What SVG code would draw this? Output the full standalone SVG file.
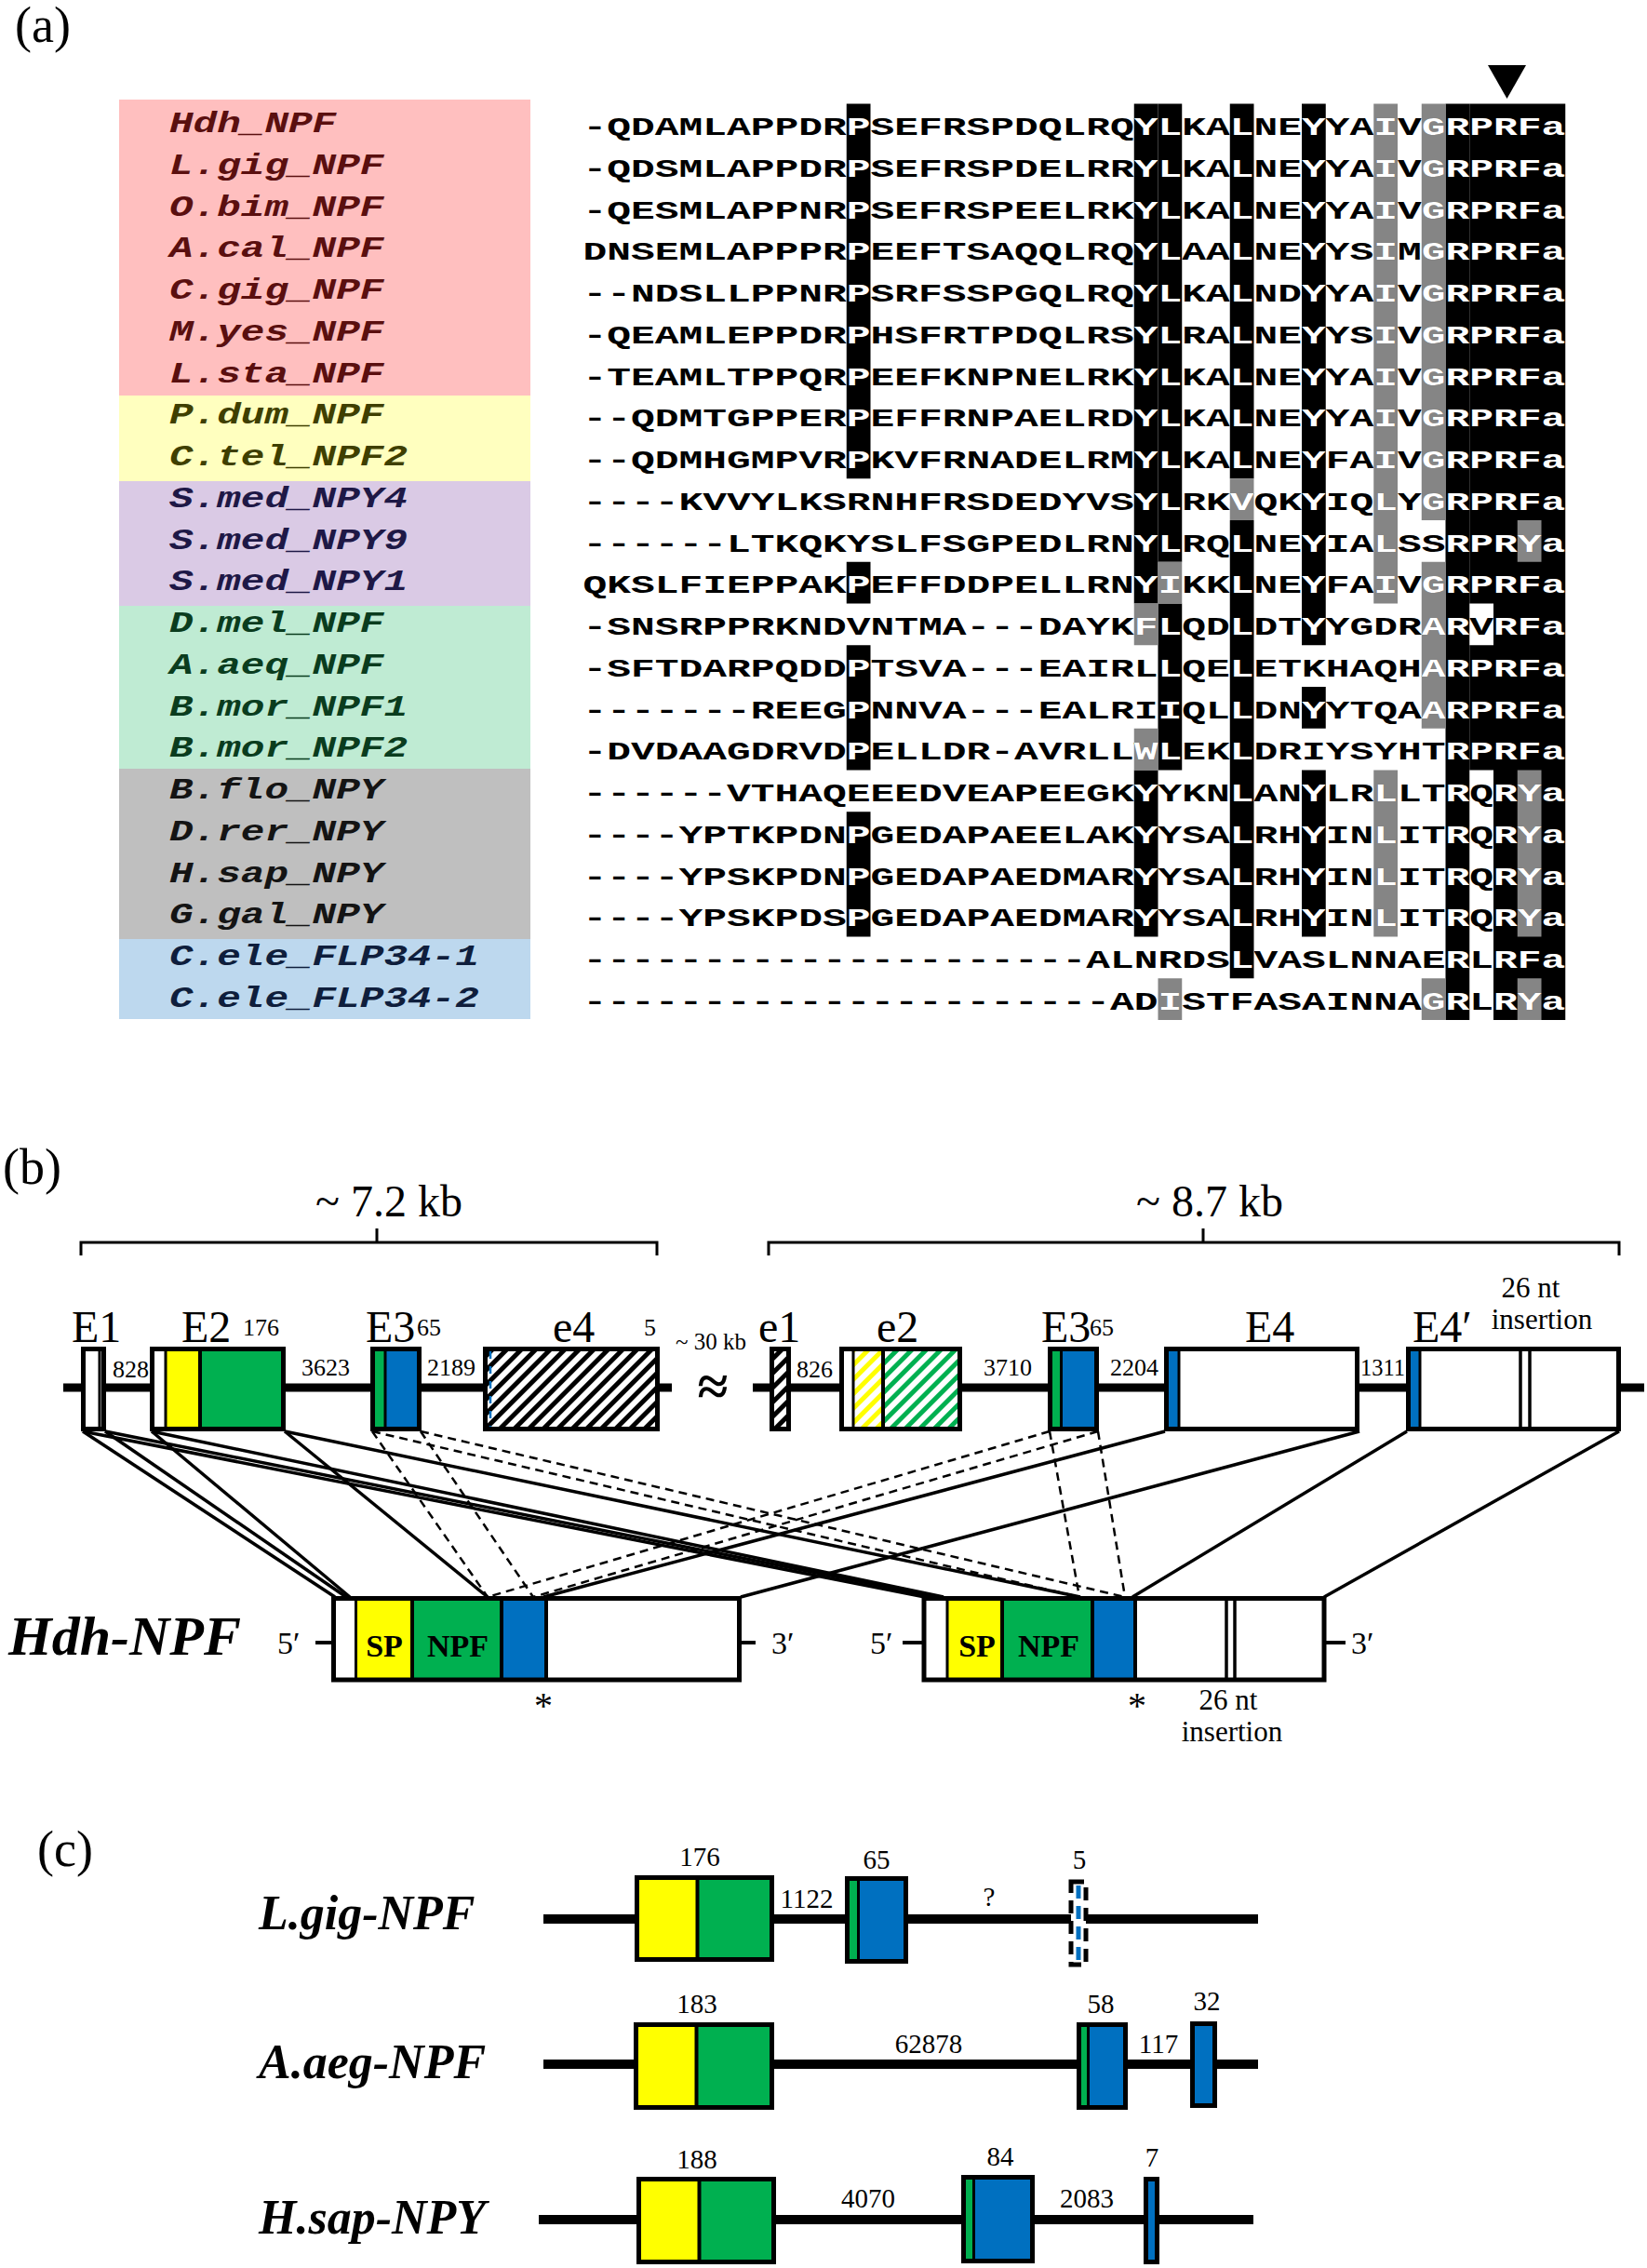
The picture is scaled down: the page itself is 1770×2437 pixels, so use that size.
<svg xmlns="http://www.w3.org/2000/svg" xmlns:xlink="http://www.w3.org/1999/xlink" width="1770" height="2437" viewBox="0 0 1770 2437">
<style>
.seq{font-family:"Liberation Mono",monospace;font-weight:bold;font-size:28px}
.lbl{font-family:"Liberation Mono",monospace;font-weight:bold;font-style:italic;font-size:32px}
.sf{font-family:"Liberation Serif",serif}
.pl{font-family:"Liberation Serif",serif;font-size:54px}
.num{font-family:"Liberation Serif",serif;font-size:26px}
.cn{font-family:"Liberation Serif",serif;font-size:29px;text-anchor:middle}
.ex{font-family:"Liberation Serif",serif;font-size:48px}
.gn{font-family:"Liberation Serif",serif;font-weight:bold;font-style:italic;font-size:52px}
.tb{font-family:"Liberation Serif",serif;font-weight:bold;font-size:34px;text-anchor:middle}
.conn{stroke:#000;stroke-width:3.5;fill:none}
.dash{stroke:#000;stroke-width:2.5;fill:none;stroke-dasharray:9 6}
.box{stroke:#000;stroke-width:5}
.dv{stroke:#000;stroke-width:4}
.k{fill:#000}
.g{fill:#858585}
</style>
<defs>
<pattern id="hatchK" patternUnits="userSpaceOnUse" width="11" height="11" patternTransform="rotate(45)"><rect width="11" height="11" fill="#fff"/><rect width="5" height="11" fill="#000"/></pattern>
<pattern id="hatchY" patternUnits="userSpaceOnUse" width="11" height="11" patternTransform="rotate(45)"><rect width="11" height="11" fill="#fff"/><rect width="5" height="11" fill="#ffff00"/></pattern>
<pattern id="hatchG" patternUnits="userSpaceOnUse" width="11" height="11" patternTransform="rotate(45)"><rect width="11" height="11" fill="#fff"/><rect width="5" height="11" fill="#00b050"/></pattern>
<clipPath id="hl">
<rect x="909.75" y="111.5" width="25.75" height="402.75"/><rect x="909.75" y="603.75" width="25.75" height="44.75"/><rect x="909.75" y="693.25" width="25.75" height="134.25"/><rect x="909.75" y="872.25" width="25.75" height="134.25"/>
<rect x="1218.75" y="111.5" width="25.75" height="581.75"/><rect x="1218.75" y="782.75" width="25.75" height="223.75"/>
<rect x="1244.5" y="111.5" width="25.75" height="716"/><rect x="1244.5" y="1051.25" width="25.75" height="44.75"/>
<rect x="1321.75" y="111.5" width="25.75" height="939.75"/>
<rect x="1399" y="111.5" width="25.75" height="581.75"/><rect x="1399" y="738" width="25.75" height="44.75"/><rect x="1399" y="827.5" width="25.75" height="179"/>
<rect x="1476.25" y="111.5" width="25.75" height="537"/><rect x="1476.25" y="827.5" width="25.75" height="179"/>
<rect x="1527.75" y="111.5" width="25.75" height="447.5"/><rect x="1527.75" y="603.75" width="25.75" height="179"/><rect x="1527.75" y="1051.25" width="25.75" height="44.75"/>
<rect x="1553.5" y="111.5" width="25.75" height="984.5"/>
<rect x="1579.25" y="111.5" width="25.75" height="537"/><rect x="1579.25" y="693.25" width="25.75" height="134.25"/>
<rect x="1605" y="111.5" width="77.25" height="984.5"/>
</clipPath>
<g id="seqtext" class="seq">
<text x="626.5" y="145" textLength="1055.75" lengthAdjust="spacingAndGlyphs">-QDAMLAPPDRPSEFRSPDQLRQYLKALNEYYAIVGRPRFa</text>
<text x="626.5" y="189.75" textLength="1055.75" lengthAdjust="spacingAndGlyphs">-QDSMLAPPDRPSEFRSPDELRRYLKALNEYYAIVGRPRFa</text>
<text x="626.5" y="234.5" textLength="1055.75" lengthAdjust="spacingAndGlyphs">-QESMLAPPNRPSEFRSPEELRKYLKALNEYYAIVGRPRFa</text>
<text x="626.5" y="279.25" textLength="1055.75" lengthAdjust="spacingAndGlyphs">DNSEMLAPPPRPEEFTSAQQLRQYLAALNEYYSIMGRPRFa</text>
<text x="626.5" y="324" textLength="1055.75" lengthAdjust="spacingAndGlyphs">--NDSLLPPNRPSRFSSPGQLRQYLKALNDYYAIVGRPRFa</text>
<text x="626.5" y="368.75" textLength="1055.75" lengthAdjust="spacingAndGlyphs">-QEAMLEPPDRPHSFRTPDQLRSYLRALNEYYSIVGRPRFa</text>
<text x="626.5" y="413.5" textLength="1055.75" lengthAdjust="spacingAndGlyphs">-TEAMLTPPQRPEEFKNPNELRKYLKALNEYYAIVGRPRFa</text>
<text x="626.5" y="458.25" textLength="1055.75" lengthAdjust="spacingAndGlyphs">--QDMTGPPERPEFFRNPAELRDYLKALNEYYAIVGRPRFa</text>
<text x="626.5" y="503" textLength="1055.75" lengthAdjust="spacingAndGlyphs">--QDMHGMPVRPKVFRNADELRMYLKALNEYFAIVGRPRFa</text>
<text x="626.5" y="547.75" textLength="1055.75" lengthAdjust="spacingAndGlyphs">----KVVYLKSRNHFRSDEDYVSYLRKVQKYIQLYGRPRFa</text>
<text x="626.5" y="592.5" textLength="1055.75" lengthAdjust="spacingAndGlyphs">------LTKQKYSLFSGPEDLRNYLRQLNEYIALSSRPRYa</text>
<text x="626.5" y="637.25" textLength="1055.75" lengthAdjust="spacingAndGlyphs">QKSLFIEPPAKPEFFDDPELLRNYIKKLNEYFAIVGRPRFa</text>
<text x="626.5" y="682" textLength="1055.75" lengthAdjust="spacingAndGlyphs">-SNSRPPRKNDVNTMA---DAYKFLQDLDTYYGDRARVRFa</text>
<text x="626.5" y="726.75" textLength="1055.75" lengthAdjust="spacingAndGlyphs">-SFTDARPQDDPTSVA---EAIRLLQELETKHAQHARPRFa</text>
<text x="626.5" y="771.5" textLength="1055.75" lengthAdjust="spacingAndGlyphs">-------REEGPNNVA---EALRIIQLLDNYYTQAARPRFa</text>
<text x="626.5" y="816.25" textLength="1055.75" lengthAdjust="spacingAndGlyphs">-DVDAAGDRVDPELLDR-AVRLLWLEKLDRIYSYHTRPRFa</text>
<text x="626.5" y="861" textLength="1055.75" lengthAdjust="spacingAndGlyphs">------VTHAQEEEDVEAPEEGKYYKNLANYLRLLTRQRYa</text>
<text x="626.5" y="905.75" textLength="1055.75" lengthAdjust="spacingAndGlyphs">----YPTKPDNPGEDAPAEELAKYYSALRHYINLITRQRYa</text>
<text x="626.5" y="950.5" textLength="1055.75" lengthAdjust="spacingAndGlyphs">----YPSKPDNPGEDAPAEDMARYYSALRHYINLITRQRYa</text>
<text x="626.5" y="995.25" textLength="1055.75" lengthAdjust="spacingAndGlyphs">----YPSKPDSPGEDAPAEDMARYYSALRHYINLITRQRYa</text>
<text x="626.5" y="1040" textLength="1055.75" lengthAdjust="spacingAndGlyphs">---------------------ALNRDSLVASLNNAERLRFa</text>
<text x="626.5" y="1084.75" textLength="1055.75" lengthAdjust="spacingAndGlyphs">----------------------ADISTFASAINNAGRLRYa</text>
</g>
</defs>
<rect width="1770" height="2437" fill="#fff"/>

<!-- Panel (a) -->
<text class="pl" x="16" y="45">(a)</text>
<g id="labels">
<rect x="128" y="107" width="442" height="318" fill="#ffbfbf"/>
<rect x="128" y="425" width="442" height="92" fill="#ffffbf"/>
<rect x="128" y="517" width="442" height="134" fill="#dacae5"/>
<rect x="128" y="651" width="442" height="175" fill="#bfebd3"/>
<rect x="128" y="826" width="442" height="183" fill="#bfbfbf"/>
<rect x="128" y="1009" width="442" height="86" fill="#bdd8ee"/>
<g class="lbl" fill="#5a0f0f">
<text x="182" y="142" textLength="179.2" lengthAdjust="spacingAndGlyphs">Hdh_NPF</text>
<text x="182" y="186.75" textLength="230.4" lengthAdjust="spacingAndGlyphs">L.gig_NPF</text>
<text x="182" y="231.5" textLength="230.4" lengthAdjust="spacingAndGlyphs">O.bim_NPF</text>
<text x="182" y="276.25" textLength="230.4" lengthAdjust="spacingAndGlyphs">A.cal_NPF</text>
<text x="182" y="321" textLength="230.4" lengthAdjust="spacingAndGlyphs">C.gig_NPF</text>
<text x="182" y="365.75" textLength="230.4" lengthAdjust="spacingAndGlyphs">M.yes_NPF</text>
<text x="182" y="410.5" textLength="230.4" lengthAdjust="spacingAndGlyphs">L.sta_NPF</text>
</g>
<g class="lbl" fill="#3f3f00">
<text x="182" y="455.25" textLength="230.4" lengthAdjust="spacingAndGlyphs">P.dum_NPF</text>
<text x="182" y="500" textLength="256" lengthAdjust="spacingAndGlyphs">C.tel_NPF2</text>
</g>
<g class="lbl" fill="#1e1846">
<text x="182" y="544.75" textLength="256" lengthAdjust="spacingAndGlyphs">S.med_NPY4</text>
<text x="182" y="589.5" textLength="256" lengthAdjust="spacingAndGlyphs">S.med_NPY9</text>
<text x="182" y="634.25" textLength="256" lengthAdjust="spacingAndGlyphs">S.med_NPY1</text>
</g>
<g class="lbl" fill="#0a3c1e">
<text x="182" y="679" textLength="230.4" lengthAdjust="spacingAndGlyphs">D.mel_NPF</text>
<text x="182" y="723.75" textLength="230.4" lengthAdjust="spacingAndGlyphs">A.aeq_NPF</text>
<text x="182" y="768.5" textLength="256" lengthAdjust="spacingAndGlyphs">B.mor_NPF1</text>
<text x="182" y="813.25" textLength="256" lengthAdjust="spacingAndGlyphs">B.mor_NPF2</text>
</g>
<g class="lbl" fill="#141414">
<text x="182" y="858" textLength="230.4" lengthAdjust="spacingAndGlyphs">B.flo_NPY</text>
<text x="182" y="902.75" textLength="230.4" lengthAdjust="spacingAndGlyphs">D.rer_NPY</text>
<text x="182" y="947.5" textLength="230.4" lengthAdjust="spacingAndGlyphs">H.sap_NPY</text>
<text x="182" y="992.25" textLength="230.4" lengthAdjust="spacingAndGlyphs">G.gal_NPY</text>
</g>
<g class="lbl" fill="#0f1e3c">
<text x="182" y="1037" textLength="332.8" lengthAdjust="spacingAndGlyphs">C.ele_FLP34-1</text>
<text x="182" y="1081.75" textLength="332.8" lengthAdjust="spacingAndGlyphs">C.ele_FLP34-2</text>
</g>
</g>
<g id="alignment">
<g class="k">
<rect x="909.75" y="111.5" width="25.75" height="402.75"/><rect x="909.75" y="603.75" width="25.75" height="44.75"/><rect x="909.75" y="693.25" width="25.75" height="134.25"/><rect x="909.75" y="872.25" width="25.75" height="134.25"/>
<rect x="1218.75" y="111.5" width="25.75" height="537"/><rect x="1218.75" y="827.5" width="25.75" height="179"/>
<rect x="1244.5" y="111.5" width="25.75" height="492.25"/><rect x="1244.5" y="648.5" width="25.75" height="179"/>
<rect x="1321.75" y="111.5" width="25.75" height="402.75"/><rect x="1321.75" y="559" width="25.75" height="492.25"/>
<rect x="1399" y="111.5" width="25.75" height="581.75"/><rect x="1399" y="738" width="25.75" height="44.75"/><rect x="1399" y="827.5" width="25.75" height="179"/>
<rect x="1553.5" y="111.5" width="25.75" height="984.5"/>
<rect x="1579.25" y="111.5" width="25.75" height="537"/><rect x="1579.25" y="693.25" width="25.75" height="134.25"/>
<rect x="1605" y="111.5" width="77.25" height="984.5"/>
</g>
<g class="g">
<rect x="1218.75" y="648.5" width="25.75" height="44.75"/><rect x="1218.75" y="782.75" width="25.75" height="44.75"/>
<rect x="1244.5" y="603.75" width="25.75" height="44.75"/><rect x="1244.5" y="1051.25" width="25.75" height="44.75"/>
<rect x="1321.75" y="514.25" width="25.75" height="44.75"/>
<rect x="1476.25" y="111.5" width="25.75" height="537"/><rect x="1476.25" y="827.5" width="25.75" height="179"/>
<rect x="1527.75" y="111.5" width="25.75" height="447.5"/><rect x="1527.75" y="603.75" width="25.75" height="179"/><rect x="1527.75" y="1051.25" width="25.75" height="44.75"/>
<rect x="1630.75" y="559" width="25.75" height="44.75"/><rect x="1630.75" y="827.5" width="25.75" height="179"/><rect x="1630.75" y="1051.25" width="25.75" height="44.75"/>
</g>
<use href="#seqtext" fill="#000"/>
<use href="#seqtext" fill="#fff" clip-path="url(#hl)"/>
<polygon points="1599,70 1640,70 1619.5,106" fill="#000"/>
</g>

<!-- Panel (b) -->
<text class="pl" x="3" y="1272">(b)</text>
<g id="brackets" fill="none" stroke="#000" stroke-width="3">
<path d="M87,1349 V1335 H706 V1349 M405,1335 V1320"/>
<path d="M826,1349 V1335 H1740 V1349 M1293,1335 V1320"/>
</g>
<text class="sf" x="339" y="1307" font-size="48">~ 7.2 kb</text>
<text class="sf" x="1221" y="1307" font-size="48">~ 8.7 kb</text>

<g id="connectors">
<g class="conn">
<line x1="89" y1="1538" x2="360" y2="1716"/>
<line x1="113" y1="1538" x2="372" y2="1716"/>
<line x1="163" y1="1538" x2="376" y2="1716"/>
<line x1="306" y1="1538" x2="524" y2="1716"/>
<line x1="89" y1="1538" x2="994" y2="1716"/>
<line x1="113" y1="1538" x2="1008" y2="1716"/>
<line x1="163" y1="1538" x2="1014" y2="1716"/>
<line x1="306" y1="1538" x2="1161" y2="1716"/>
<line x1="1252" y1="1538" x2="584" y2="1716"/>
<line x1="1461" y1="1538" x2="796" y2="1716"/>
<line x1="1512" y1="1538" x2="1217" y2="1716"/>
<line x1="1740" y1="1538" x2="1423" y2="1716"/>
</g>
<g class="dash">
<line x1="400" y1="1538" x2="524" y2="1716"/>
<line x1="452" y1="1538" x2="573" y2="1716"/>
<line x1="400" y1="1538" x2="1160" y2="1716"/>
<line x1="452" y1="1538" x2="1209" y2="1716"/>
<line x1="1128" y1="1538" x2="524" y2="1716"/>
<line x1="1180" y1="1538" x2="573" y2="1716"/>
<line x1="1128" y1="1538" x2="1160" y2="1716"/>
<line x1="1180" y1="1538" x2="1209" y2="1716"/>
</g>
</g>

<g id="genome">
<line x1="68" y1="1491" x2="722" y2="1491" stroke="#000" stroke-width="9"/>
<line x1="809" y1="1491" x2="1767" y2="1491" stroke="#000" stroke-width="9"/>
<text class="sf" x="766" y="1510" font-size="60" font-weight="bold" text-anchor="middle">≈</text>
<text class="sf" x="726" y="1450" font-size="25">~ 30 kb</text>
</g>
<g id="E1">
<rect class="box" x="89.5" y="1449.5" width="22" height="86" fill="#fff"/>
<line x1="107" y1="1449.5" x2="107" y2="1535.5" stroke="#000" stroke-width="3"/>
<text class="ex" x="77" y="1442">E1</text>
<text class="num" x="121" y="1480">828</text>
</g>
<g id="E2">
<rect x="163.5" y="1449.5" width="141" height="86" fill="#fff"/>
<rect x="179" y="1452" width="36" height="81" fill="#ffff00"/>
<rect x="215" y="1452" width="89" height="81" fill="#00b050"/>
<line x1="178" y1="1449.5" x2="178" y2="1535.5" stroke="#000" stroke-width="3"/>
<line class="dv" x1="215" y1="1449.5" x2="215" y2="1535.5"/>
<rect class="box" x="163.5" y="1449.5" width="141" height="86" fill="none"/>
<text class="ex" x="195" y="1442">E2</text>
<text class="num" x="261" y="1435">176</text>
<text class="num" x="324" y="1478">3623</text>
</g>
<g id="E3a">
<rect x="400.5" y="1449.5" width="50" height="86" fill="#0070c0"/>
<rect x="402" y="1452" width="11" height="81" fill="#00b050"/>
<line x1="414" y1="1449.5" x2="414" y2="1535.5" stroke="#000" stroke-width="3"/>
<rect class="box" x="400.5" y="1449.5" width="50" height="86" fill="none"/>
<text class="ex" x="393" y="1442">E3</text>
<text class="num" x="448" y="1435">65</text>
<text class="num" x="459" y="1478">2189</text>
</g>
<g id="e4">
<rect class="box" x="521.5" y="1449.5" width="185" height="86" fill="url(#hatchK)"/>
<line x1="527" y1="1452" x2="527" y2="1533" stroke="#0070c0" stroke-width="2.5" stroke-dasharray="8 8"/>
<text class="ex" x="594" y="1442">e4</text>
<text class="num" x="692" y="1435">5</text>
</g>
<g id="e1">
<rect class="box" x="829.5" y="1449.5" width="18" height="86" fill="url(#hatchK)"/>
<text class="ex" x="815" y="1442">e1</text>
<text class="num" x="856" y="1480">826</text>
</g>
<g id="e2">
<rect x="904.5" y="1449.5" width="127" height="86" fill="#fff"/>
<rect x="918" y="1452" width="31" height="81" fill="url(#hatchY)"/>
<rect x="949" y="1452" width="83" height="81" fill="url(#hatchG)"/>
<line x1="917" y1="1449.5" x2="917" y2="1535.5" stroke="#000" stroke-width="3"/>
<line class="dv" x1="949" y1="1449.5" x2="949" y2="1535.5"/>
<rect class="box" x="904.5" y="1449.5" width="127" height="86" fill="none"/>
<text class="ex" x="942" y="1442">e2</text>
<text class="num" x="1057" y="1478">3710</text>
</g>
<g id="E3b">
<rect x="1128.5" y="1449.5" width="50" height="86" fill="#0070c0"/>
<rect x="1130" y="1452" width="10" height="81" fill="#00b050"/>
<line x1="1140.5" y1="1449.5" x2="1140.5" y2="1535.5" stroke="#000" stroke-width="3"/>
<rect class="box" x="1128.5" y="1449.5" width="50" height="86" fill="none"/>
<text class="ex" x="1119" y="1442">E3</text>
<text class="num" x="1171" y="1435">65</text>
<text class="num" x="1193" y="1478">2204</text>
</g>
<g id="E4">
<rect x="1253.5" y="1449.5" width="205" height="86" fill="#fff"/>
<rect x="1255" y="1452" width="11" height="81" fill="#0070c0"/>
<line x1="1267" y1="1449.5" x2="1267" y2="1535.5" stroke="#000" stroke-width="3"/>
<rect class="box" x="1253.5" y="1449.5" width="205" height="86" fill="none"/>
<text class="ex" x="1338" y="1442">E4</text>
<text class="num" x="1462" y="1478" textLength="48" lengthAdjust="spacingAndGlyphs">1311</text>
</g>
<g id="E4p">
<rect x="1513.5" y="1449.5" width="226" height="86" fill="#fff"/>
<rect x="1515" y="1452" width="10" height="81" fill="#0070c0"/>
<line x1="1526" y1="1449.5" x2="1526" y2="1535.5" stroke="#000" stroke-width="3"/>
<line x1="1634" y1="1449.5" x2="1634" y2="1535.5" stroke="#000" stroke-width="3.5"/>
<line x1="1644" y1="1449.5" x2="1644" y2="1535.5" stroke="#000" stroke-width="3.5"/>
<rect class="box" x="1513.5" y="1449.5" width="226" height="86" fill="none"/>
<text class="ex" x="1518" y="1442">E4′</text>
<text class="sf" x="1645" y="1394" font-size="31" text-anchor="middle">26 nt</text>
<text class="sf" x="1657" y="1428" font-size="31" text-anchor="middle">insertion</text>
</g>

<text class="sf" x="9" y="1778" font-size="60" font-weight="bold" font-style="italic">Hdh-NPF</text>
<g id="T1">
<rect x="358.5" y="1717.5" width="436" height="87.5" fill="#fff"/>
<rect x="383" y="1720" width="60" height="83" fill="#ffff00"/>
<rect x="443" y="1720" width="96" height="83" fill="#00b050"/>
<rect x="539" y="1720" width="48" height="83" fill="#0070c0"/>
<line x1="382.5" y1="1717.5" x2="382.5" y2="1805" stroke="#000" stroke-width="3"/>
<line class="dv" x1="443" y1="1717.5" x2="443" y2="1805"/>
<line class="dv" x1="539" y1="1717.5" x2="539" y2="1805"/>
<line class="dv" x1="587" y1="1717.5" x2="587" y2="1805"/>
<rect class="box" x="358.5" y="1717.5" width="436" height="87.5" fill="none"/>
<text class="tb" x="413" y="1780">SP</text>
<text class="tb" x="492" y="1780">NPF</text>
<line x1="339" y1="1765" x2="358.5" y2="1765" stroke="#000" stroke-width="4"/>
<line x1="794.5" y1="1765" x2="812" y2="1765" stroke="#000" stroke-width="4"/>
<text class="sf" x="298" y="1777" font-size="34">5′</text>
<text class="sf" x="829" y="1777" font-size="34">3′</text>
<text class="sf" x="584" y="1846" font-size="40" text-anchor="middle">*</text>
</g>
<g id="T2">
<rect x="993" y="1717.5" width="430" height="87.5" fill="#fff"/>
<rect x="1018" y="1720" width="59" height="83" fill="#ffff00"/>
<rect x="1077" y="1720" width="97" height="83" fill="#00b050"/>
<rect x="1174" y="1720" width="46" height="83" fill="#0070c0"/>
<line x1="1018" y1="1717.5" x2="1018" y2="1805" stroke="#000" stroke-width="3"/>
<line class="dv" x1="1077" y1="1717.5" x2="1077" y2="1805"/>
<line class="dv" x1="1174" y1="1717.5" x2="1174" y2="1805"/>
<line class="dv" x1="1220" y1="1717.5" x2="1220" y2="1805"/>
<line x1="1318" y1="1717.5" x2="1318" y2="1805" stroke="#000" stroke-width="3.5"/>
<line x1="1327" y1="1717.5" x2="1327" y2="1805" stroke="#000" stroke-width="3.5"/>
<rect class="box" x="993" y="1717.5" width="430" height="87.5" fill="none"/>
<text class="tb" x="1050" y="1780">SP</text>
<text class="tb" x="1127" y="1780">NPF</text>
<line x1="970" y1="1765" x2="993" y2="1765" stroke="#000" stroke-width="4"/>
<line x1="1423" y1="1765" x2="1446" y2="1765" stroke="#000" stroke-width="4"/>
<text class="sf" x="935" y="1777" font-size="34">5′</text>
<text class="sf" x="1452" y="1777" font-size="34">3′</text>
<text class="sf" x="1222" y="1846" font-size="40" text-anchor="middle">*</text>
<text class="sf" x="1320" y="1837" font-size="31" text-anchor="middle">26 nt</text>
<text class="sf" x="1324" y="1871" font-size="31" text-anchor="middle">insertion</text>
</g>

<!-- Panel (c) -->
<text class="pl" x="40" y="2005">(c)</text>
<g id="Lgig">
<text class="gn" x="278" y="2073">L.gig-NPF</text>
<line x1="584" y1="2062" x2="1352" y2="2062" stroke="#000" stroke-width="10"/>
<rect x="684.5" y="2017.5" width="145" height="88" fill="#00b050"/>
<rect x="687" y="2020" width="62" height="83" fill="#ffff00"/>
<line class="dv" x1="749.5" y1="2017.5" x2="749.5" y2="2105.5"/>
<rect class="box" x="684.5" y="2017.5" width="145" height="88" fill="none"/>
<rect x="910.5" y="2018.5" width="63" height="89" fill="#0070c0"/>
<rect x="913" y="2021" width="8" height="84" fill="#00b050"/>
<line x1="922.5" y1="2018.5" x2="922.5" y2="2107.5" stroke="#000" stroke-width="3"/>
<rect class="box" x="910.5" y="2018.5" width="63" height="89" fill="none"/>
<rect x="1151" y="2022" width="16" height="89" fill="#fff" stroke="#000" stroke-width="5" stroke-dasharray="14 8"/>
<line x1="1159" y1="2022" x2="1159" y2="2111" stroke="#0070c0" stroke-width="5" stroke-dasharray="14 8" stroke-dashoffset="-4"/>
<text class="cn" x="752" y="2005">176</text>
<text class="cn" x="942" y="2008">65</text>
<text class="cn" x="1160" y="2008">5</text>
<text class="cn" x="867" y="2050">1122</text>
<text class="cn" x="1063" y="2048">?</text>
</g>
<g id="Aaeg">
<text class="gn" x="278" y="2233">A.aeg-NPF</text>
<line x1="584" y1="2218" x2="1352" y2="2218" stroke="#000" stroke-width="10"/>
<rect x="683.5" y="2175.5" width="146" height="89" fill="#00b050"/>
<rect x="686" y="2178" width="62" height="84" fill="#ffff00"/>
<line class="dv" x1="748.5" y1="2175.5" x2="748.5" y2="2264.5"/>
<rect class="box" x="683.5" y="2175.5" width="146" height="89" fill="none"/>
<rect x="1159.5" y="2175.5" width="50" height="89" fill="#0070c0"/>
<rect x="1162" y="2178" width="6" height="84" fill="#00b050"/>
<line x1="1169.5" y1="2175.5" x2="1169.5" y2="2264.5" stroke="#000" stroke-width="3"/>
<rect class="box" x="1159.5" y="2175.5" width="50" height="89" fill="none"/>
<rect class="box" x="1281.5" y="2174.5" width="24" height="88" fill="#0070c0"/>
<text class="cn" x="749" y="2163">183</text>
<text class="cn" x="998" y="2206">62878</text>
<text class="cn" x="1183" y="2163">58</text>
<text class="cn" x="1245" y="2206">117</text>
<text class="cn" x="1297" y="2160">32</text>
</g>
<g id="Hsap">
<text class="gn" x="278" y="2400">H.sap-NPY</text>
<line x1="579" y1="2385" x2="1347" y2="2385" stroke="#000" stroke-width="10"/>
<rect x="686.5" y="2341.5" width="145" height="89" fill="#00b050"/>
<rect x="689" y="2344" width="62" height="84" fill="#ffff00"/>
<line class="dv" x1="751.5" y1="2341.5" x2="751.5" y2="2430.5"/>
<rect class="box" x="686.5" y="2341.5" width="145" height="89" fill="none"/>
<rect x="1035.5" y="2339.5" width="74" height="90" fill="#0070c0"/>
<rect x="1038" y="2342" width="7" height="85" fill="#00b050"/>
<line x1="1046.5" y1="2339.5" x2="1046.5" y2="2429.5" stroke="#000" stroke-width="3"/>
<rect class="box" x="1035.5" y="2339.5" width="74" height="90" fill="none"/>
<rect class="box" x="1231.5" y="2341.5" width="12" height="89" fill="#0070c0"/>
<text class="cn" x="749" y="2330">188</text>
<text class="cn" x="933" y="2372">4070</text>
<text class="cn" x="1075" y="2327">84</text>
<text class="cn" x="1168" y="2372">2083</text>
<text class="cn" x="1238" y="2328">7</text>
</g>
</svg>
